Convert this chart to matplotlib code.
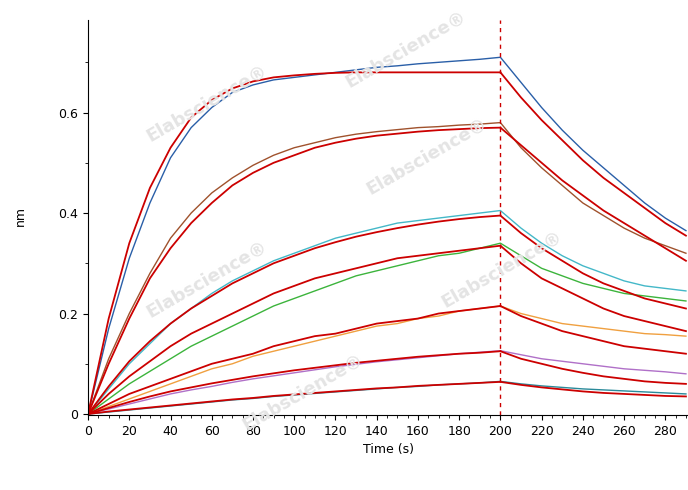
import numpy as np
import matplotlib
matplotlib.use("Agg")
import matplotlib.pyplot as plt

t_assoc = list(range(0, 201, 10))
t_dis = list(range(200, 291, 10))

data_assoc = {
 'blue':  [0,0.17,0.31,0.42,0.51,0.57,0.61,0.64,0.655,0.665,0.67,0.675,0.68,0.685,0.69,0.693,0.697,0.70,0.703,0.706,0.71],
 'brown': [0,0.11,0.20,0.28,0.35,0.40,0.44,0.47,0.495,0.515,0.53,0.54,0.55,0.557,0.562,0.566,0.57,0.572,0.575,0.577,0.58],
 'cyan':  [0,0.05,0.10,0.14,0.18,0.21,0.24,0.265,0.285,0.305,0.32,0.335,0.35,0.36,0.37,0.38,0.385,0.39,0.395,0.40,0.405],
 'green': [0,0.03,0.06,0.085,0.11,0.135,0.155,0.175,0.195,0.215,0.23,0.245,0.26,0.275,0.285,0.295,0.305,0.315,0.32,0.33,0.34],
 'orange':[0,0.015,0.03,0.045,0.06,0.075,0.09,0.10,0.115,0.125,0.135,0.145,0.155,0.165,0.175,0.18,0.19,0.195,0.205,0.21,0.215],
 'purple':[0,0.01,0.02,0.03,0.04,0.048,0.055,0.063,0.07,0.076,0.082,0.088,0.094,0.099,0.104,0.108,0.112,0.116,0.12,0.123,0.126],
 'teal':  [0,0.004,0.008,0.012,0.016,0.02,0.024,0.028,0.031,0.035,0.038,0.041,0.044,0.047,0.05,0.053,0.055,0.058,0.06,0.062,0.065],
}
data_dis = {
 'blue':  [0.71,0.66,0.61,0.565,0.525,0.49,0.455,0.42,0.39,0.365],
 'brown': [0.58,0.53,0.49,0.455,0.42,0.395,0.37,0.35,0.335,0.32],
 'cyan':  [0.405,0.37,0.34,0.315,0.295,0.28,0.265,0.255,0.25,0.245],
 'green': [0.34,0.315,0.29,0.275,0.26,0.25,0.24,0.235,0.23,0.225],
 'orange':[0.215,0.20,0.19,0.18,0.175,0.17,0.165,0.16,0.158,0.155],
 'purple':[0.126,0.118,0.11,0.105,0.10,0.095,0.09,0.087,0.084,0.08],
 'teal':  [0.065,0.06,0.056,0.053,0.05,0.048,0.046,0.044,0.042,0.04],
}
fit_assoc = [
 [0,0.19,0.34,0.45,0.53,0.59,0.625,0.648,0.662,0.670,0.674,0.677,0.679,0.68,0.68,0.68,0.68,0.68,0.68,0.68,0.68],
 [0,0.10,0.19,0.27,0.33,0.38,0.42,0.455,0.48,0.50,0.515,0.53,0.54,0.548,0.554,0.558,0.562,0.565,0.567,0.569,0.57],
 [0,0.055,0.105,0.145,0.18,0.21,0.235,0.26,0.28,0.30,0.315,0.33,0.342,0.353,0.362,0.37,0.377,0.383,0.388,0.392,0.395],
 [0,0.04,0.075,0.105,0.135,0.16,0.18,0.20,0.22,0.24,0.255,0.27,0.28,0.29,0.30,0.31,0.315,0.32,0.325,0.33,0.335],
 [0,0.02,0.04,0.055,0.07,0.085,0.10,0.11,0.12,0.135,0.145,0.155,0.16,0.17,0.18,0.185,0.19,0.20,0.205,0.21,0.215],
 [0,0.012,0.024,0.035,0.045,0.053,0.061,0.068,0.075,0.081,0.087,0.092,0.097,0.102,0.106,0.11,0.114,0.117,0.12,0.122,0.125],
 [0,0.005,0.009,0.013,0.017,0.021,0.025,0.029,0.032,0.036,0.039,0.042,0.045,0.048,0.051,0.053,0.056,0.058,0.06,0.062,0.064],
]
fit_dis = [
 [0.68,0.63,0.585,0.545,0.505,0.47,0.44,0.41,0.38,0.355],
 [0.57,0.535,0.50,0.465,0.435,0.405,0.38,0.355,0.33,0.305],
 [0.395,0.36,0.33,0.305,0.28,0.26,0.245,0.23,0.22,0.21],
 [0.335,0.30,0.27,0.25,0.23,0.21,0.195,0.185,0.175,0.165],
 [0.215,0.195,0.18,0.165,0.155,0.145,0.135,0.13,0.125,0.12],
 [0.125,0.11,0.10,0.09,0.082,0.075,0.07,0.065,0.062,0.06],
 [0.064,0.058,0.053,0.049,0.045,0.042,0.04,0.038,0.036,0.035],
]
colors = {'blue':'#2a5fa8','brown':'#a0522d','cyan':'#44b8c8','green':'#3cb43c',
          'orange':'#f0a040','purple':'#b070c8','teal':'#2a8a9a'}

fig = plt.figure(figsize=(6.88,4.90), dpi=100)
ax = fig.add_axes([0.128, 0.153, 0.872, 0.807])
for (x, y) in [(0.59,0.90),(0.30,0.79),(0.62,0.68),(0.30,0.43),(0.73,0.45),(0.44,0.20)]:
    fig.text(x, y, 'Elabscience®', rotation=30, fontsize=13, color='#e4e4e4',
             ha='center', va='center', fontweight='bold', zorder=0)
for k in data_assoc:
    ax.plot(t_assoc + t_dis[1:], data_assoc[k] + data_dis[k][1:], color=colors[k], lw=1)
for a, d in zip(fit_assoc, fit_dis):
    ax.plot(t_assoc, a, color='#cc0000', lw=1.3)
    ax.plot(t_dis, d, color='#cc0000', lw=1.3)
ax.axvline(200, color='#cc0000', ls=(0,(3,3)), lw=1)
ax.patch.set_alpha(0)
ax.set_xlim(0, 291)
ax.set_ylim(-0.002, 0.785)
ax.set_xticks(range(0, 281, 20))
ax.set_xticks(range(0, 291, 5), minor=True)
ax.set_yticks([0,0.2,0.4,0.6])
ax.set_yticklabels(['0','0.2','0.4','0.6'])
ax.set_yticks(np.arange(0,0.75,0.1), minor=True)
ax.tick_params(labelsize=9)
for s in ['top','right']:
    ax.spines[s].set_visible(False)
ax.set_xlabel('Time (s)', fontsize=9)
fig.text(0.02, 0.56, 'nm', rotation=90, fontsize=9, va='center')
fig.savefig('out.png', dpi=100)
